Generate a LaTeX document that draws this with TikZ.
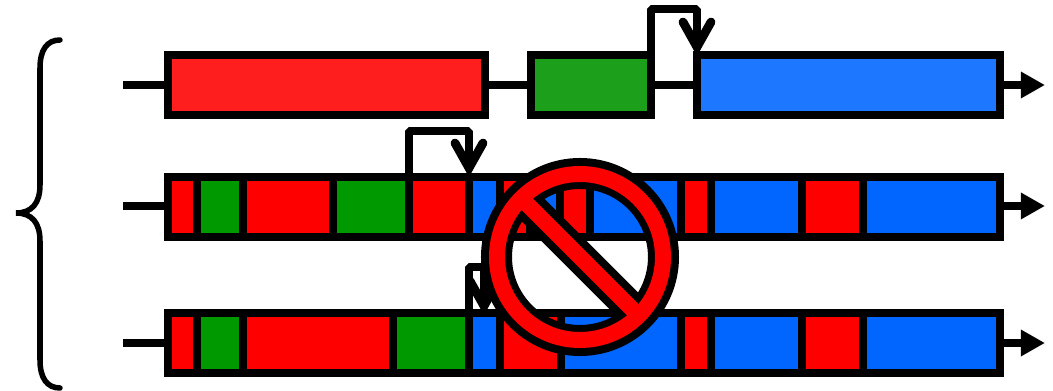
\documentclass[tikz,border=0pt]{standalone}
\usepackage{amsmath}
\usetikzlibrary{arrows.meta, calc}

\definecolor{softred}{HTML}{FF1E1E}
\definecolor{softgreen}{HTML}{1CA01C}
\definecolor{softblue}{HTML}{1E78FF}
\definecolor{exonred}{HTML}{FF0000}
\definecolor{exongreen}{HTML}{009900}
\definecolor{exonblue}{HTML}{0066FF}

\tikzset{
    segbox/.style={draw=black, line width=0.088cm, line join=miter},
    wire/.style={draw=black, line width=0.08cm},
    outwire/.style={wire, -{Triangle[length=0.24cm, width=0.25cm]}},
    jumpline/.style={draw=black, line width=0.08cm, line join=bevel},
    jumptip/.style={draw=black, line width=0.088cm, line join=miter, line cap=round}
}

% #1 left x, #2 right x, #3 top of the jump, #4 y of the tip
\newcommand{\jumpover}[4]{
    \draw[jumpline] (#1,#4+8) -- (#1,#3) -- (#2,#3) -- (#2,#4);
    \draw[jumptip] (#2-14,#4-25) -- (#2,#4) -- (#2+14,#4-25);
}

\begin{document}
\begin{tikzpicture}[x=0.01cm, y=-0.01cm]

\useasboundingbox (0,0) rectangle (1053,391);

% Brace on the left
\draw[black, line width=0.055cm, line cap=round]
    (60,40) .. controls (47,40) and (40,50) .. (40,68) -- (40,185)
    .. controls (40,203) and (32,213) .. (16,213)
    .. controls (32,213) and (40,223) .. (40,241) -- (40,360)
    .. controls (40,378) and (47,388) .. (60,388);

% Wires behind the rows
\draw[wire] (123,85) -- (693,85);
\draw[outwire] (1000,85) -- (1045,85);
\draw[wire] (123,206) -- (168,206);
\draw[outwire] (1000,206) -- (1045,206);
\draw[wire] (123,343) -- (168,343);
\draw[outwire] (1000,343) -- (1045,343);

% Top row
\foreach \xa/\xb/\col in {168/485/softred, 531/651/softgreen, 697/1000/softblue}
    \draw[segbox, fill=\col] (\xa,55) rectangle (\xb,115);

% Middle row
\foreach \xa/\xb/\col in {168/197/exonred, 197/243/exongreen, 243/333/exonred, 333/409/exongreen,
        409/469/exonred, 469/500/exonblue, 500/530/exonred, 530/560/exonblue, 560/590/exonred,
        590/681/exonblue, 681/711/exonred, 711/802/exonblue, 802/863/exonred, 863/1000/exonblue}
    \draw[segbox, fill=\col] (\xa,177) rectangle (\xb,237);

% Bottom row
\foreach \xa/\xb/\col in {168/197/exonred, 197/243/exongreen, 243/393/exonred, 393/469/exongreen,
        469/500/exonblue, 500/561/exonred, 561/681/exonblue, 681/711/exonred,
        711/802/exonblue, 802/863/exonred, 863/1000/exonblue}
    \draw[segbox, fill=\col] (\xa,313) rectangle (\xb,373);

% Jumps above the rows
\jumpover{651}{697}{9}{47}
\jumpover{409}{469}{131}{168}
\jumpover{469}{484}{267}{306}

% Forbidden sign
\coordinate (stop) at (580,257);
\draw[black, line width=0.31cm] (stop) circle (83.5);
\draw[black, line width=0.32cm] ($(stop)+(-54,-54)$) -- ($(stop)+(54,54)$);
\draw[exonred, line width=0.16cm] (stop) circle (83);
\draw[exonred, line width=0.16cm] ($(stop)+(-59,-59)$) -- ($(stop)+(59,59)$);

\end{tikzpicture}
\end{document}
